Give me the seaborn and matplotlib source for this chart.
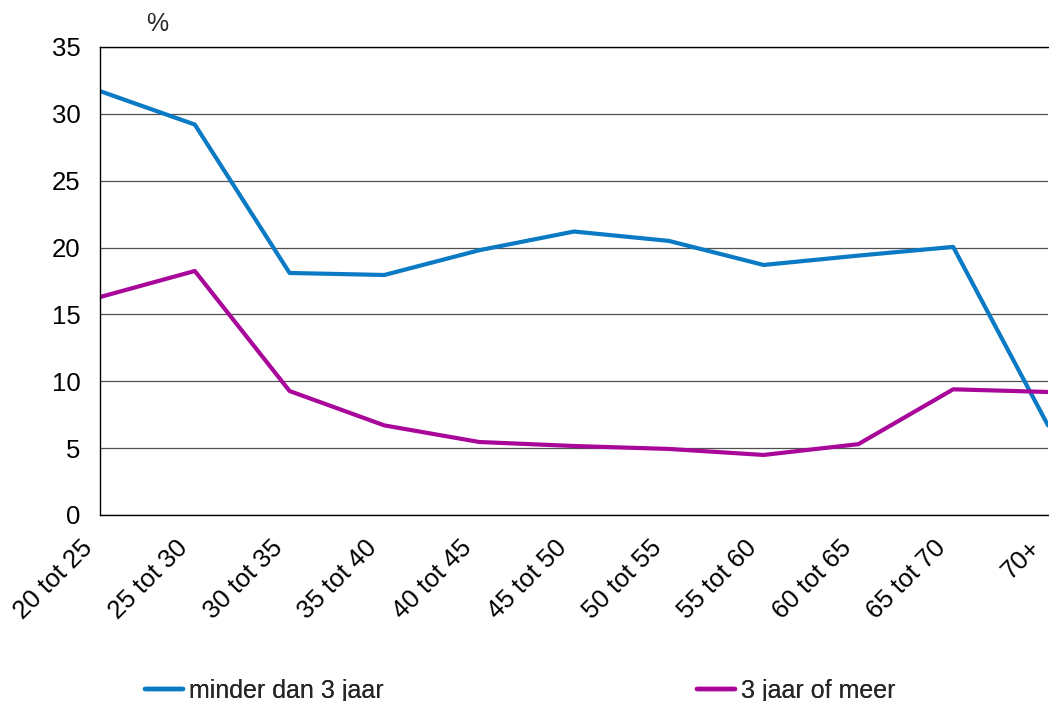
import matplotlib
matplotlib.use("Agg")
import matplotlib.pyplot as plt
import matplotlib.transforms as mtransforms
import pandas as pd
import seaborn as sns

leeftijd = ["20 tot 25", "25 tot 30", "30 tot 35", "35 tot 40", "40 tot 45", "45 tot 50",
            "50 tot 55", "55 tot 60", "60 tot 65", "65 tot 70", "70+"]
minder_dan_3 = [31.7, 29.2, 18.1, 17.95, 19.8, 21.2, 20.5, 18.7, 19.4, 20.05, 6.7]
drie_of_meer = [16.3, 18.25, 9.27, 6.7, 5.46, 5.16, 4.94, 4.49, 5.3, 9.4, 9.2]
series_names = ["minder dan 3 jaar", "3 jaar of meer"]
kleuren = ["#0A7AC4", "#A8079A"]

df = pd.DataFrame({
    "leeftijd": list(range(len(leeftijd))) * 2,
    "waarde": minder_dan_3 + drie_of_meer,
    "groep": [series_names[0]] * len(leeftijd) + [series_names[1]] * len(leeftijd),
})

sns.set_style("white")
plt.rcParams['font.family'] = ['Liberation Sans', 'DejaVu Sans']

fig = plt.figure(figsize=(10.49, 7.01), dpi=100)
W, H = 1049, 701
ax = fig.add_axes([100 / W, 1 - 515 / H, 948 / W, (515 - 47) / H])

sns.lineplot(data=df, x="leeftijd", y="waarde", hue="groep", palette=kleuren,
             linewidth=3.0, ax=ax, legend=False)

ax.set_xlim(0, len(leeftijd) - 1)
ax.set_ylim(0, 35)
ax.set_yticks(range(0, 36, 5))
ax.set_xticks(range(len(leeftijd)))
ax.set_xticklabels(leeftijd, rotation=45, ha="right", va="center", rotation_mode="anchor")
ax.tick_params(axis="both", length=0, labelsize=18.5, colors="black")
ax.tick_params(axis="x", pad=0)
ax.tick_params(axis="y", pad=14)
offset = mtransforms.ScaledTranslation(-0.11, -0.29, fig.dpi_scale_trans)
for lab in ax.get_xticklabels():
    lab.set_transform(lab.get_transform() + offset)
ax.yaxis.grid(True, color="#505050", linewidth=0.9)
ax.set_axisbelow(True)
ax.set_xlabel("")
ax.set_ylabel("")
for side in ["left", "top", "bottom"]:
    ax.spines[side].set_color("black")
    ax.spines[side].set_linewidth(1.0)
ax.spines["right"].set_visible(False)

fig.text(157 / W, 1 - 24 / H, "%", fontsize=18, ha="center", va="center")

lines = ax.get_lines()
posities = [145, 697]
for line, naam, x in zip(lines[:2], series_names, posities):
    h = plt.Line2D([], [], color=line.get_color(), linewidth=3.2)
    leg = fig.legend([h], [naam], loc="center left", bbox_to_anchor=(x / W, 1 - 691 / H),
                     frameon=False, fontsize=18, handlelength=1.5, handletextpad=0.25,
                     borderpad=0, borderaxespad=0)
    fig.add_artist(leg)

fig.savefig("out.png", dpi=100)
